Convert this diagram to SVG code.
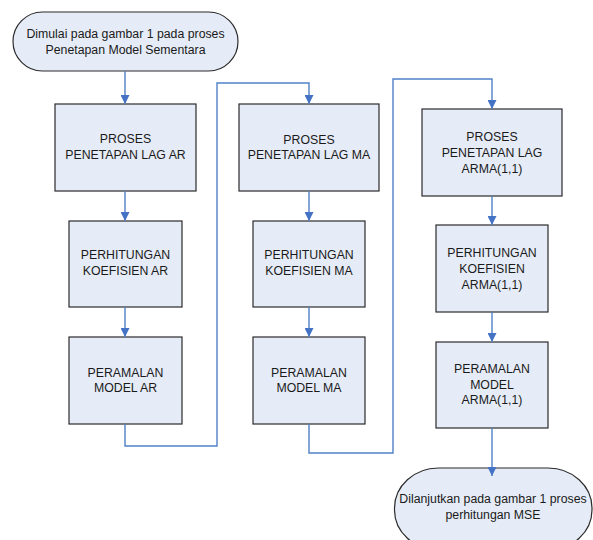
<svg xmlns="http://www.w3.org/2000/svg" width="593" height="540" viewBox="0 0 593 540">
<style>
.n{fill:#E6ECF7;stroke:#2b2b2b;stroke-width:1.2}
.t{font-family:"Liberation Sans",Arial,sans-serif;font-size:12.3px;fill:#1a1a1a;text-anchor:middle}
.c{fill:none;stroke:#4F81C7;stroke-width:1.4}
</style>
<defs>
<marker id="a" viewBox="0 0 10 10" refX="10" refY="5" markerWidth="9" markerHeight="9" markerUnits="userSpaceOnUse" orient="auto">
<path d="M0,0 L10,5 L0,10 z" fill="#4472C4"/>
</marker>
</defs>
<rect width="593" height="540" fill="#fff"/>
<g id="start">
<rect class="n" x="13" y="12" width="225" height="59" rx="29.5" ry="29.5"/>
<text class="t" x="125.5" y="37.6">Dimulai pada gambar 1 pada proses</text>
<text class="t" x="125.5" y="53.6">Penetapan Model Sementara</text>
</g>
<g id="ar1">
<rect class="n" x="55" y="104" width="141" height="87"/>
<text class="t" x="125.5" y="142.6">PROSES</text>
<text class="t" x="125.5" y="158.6">PENETAPAN LAG AR</text>
</g>
<g id="ar2">
<rect class="n" x="69" y="221" width="113" height="86"/>
<text class="t" x="125.5" y="259.3">PERHITUNGAN</text>
<text class="t" x="125.5" y="275.3">KOEFISIEN AR</text>
</g>
<g id="ar3">
<rect class="n" x="69" y="337" width="113" height="87"/>
<text class="t" x="125.5" y="376.6">PERAMALAN</text>
<text class="t" x="125.5" y="391.6">MODEL AR</text>
</g>
<g id="ma1">
<rect class="n" x="239" y="104" width="140" height="87"/>
<text class="t" x="309" y="144">PROSES</text>
<text class="t" x="309" y="159">PENETAPAN LAG MA</text>
</g>
<g id="ma2">
<rect class="n" x="253" y="221" width="112" height="86"/>
<text class="t" x="309" y="259.3">PERHITUNGAN</text>
<text class="t" x="309" y="275.3">KOEFISIEN MA</text>
</g>
<g id="ma3">
<rect class="n" x="253" y="337" width="112" height="87"/>
<text class="t" x="309" y="376.6">PERAMALAN</text>
<text class="t" x="309" y="391.6">MODEL MA</text>
</g>
<g id="arma1">
<rect class="n" x="422" y="109" width="140" height="87"/>
<text class="t" x="492" y="140.8">PROSES</text>
<text class="t" x="492" y="156.8">PENETAPAN LAG</text>
<text class="t" x="492" y="172.8">ARMA(1,1)</text>
</g>
<g id="arma2">
<rect class="n" x="436" y="225" width="112" height="87"/>
<text class="t" x="492" y="256.6">PERHITUNGAN</text>
<text class="t" x="492" y="272.6">KOEFISIEN</text>
<text class="t" x="492" y="288.6">ARMA(1,1)</text>
</g>
<g id="arma3">
<rect class="n" x="436" y="342" width="112" height="86"/>
<text class="t" x="492" y="372.6">PERAMALAN</text>
<text class="t" x="492" y="388.6">MODEL</text>
<text class="t" x="492" y="404.3">ARMA(1,1)</text>
</g>
<g id="end">
<rect class="n" x="394.5" y="468" width="197.5" height="82" rx="44" ry="40"/>
<text class="t" x="493" y="503.3">Dilanjutkan pada gambar 1 proses</text>
<text class="t" x="493" y="519.3">perhitungan MSE</text>
</g>
<g id="connectors">
<path class="c" d="M125,71 V104" marker-end="url(#a)"/>
<path class="c" d="M125,191 V221" marker-end="url(#a)"/>
<path class="c" d="M125,307 V337" marker-end="url(#a)"/>
<path class="c" d="M125,424 V446 H217 V83 H309 V104" marker-end="url(#a)"/>
<path class="c" d="M309,191 V221" marker-end="url(#a)"/>
<path class="c" d="M309,307 V337" marker-end="url(#a)"/>
<path class="c" d="M309,424 V453 H393 V79 H492 V109" marker-end="url(#a)"/>
<path class="c" d="M492,196 V225" marker-end="url(#a)"/>
<path class="c" d="M492,312 V342" marker-end="url(#a)"/>
<path class="c" d="M492,428 V476" marker-end="url(#a)"/>
</g>
</svg>
